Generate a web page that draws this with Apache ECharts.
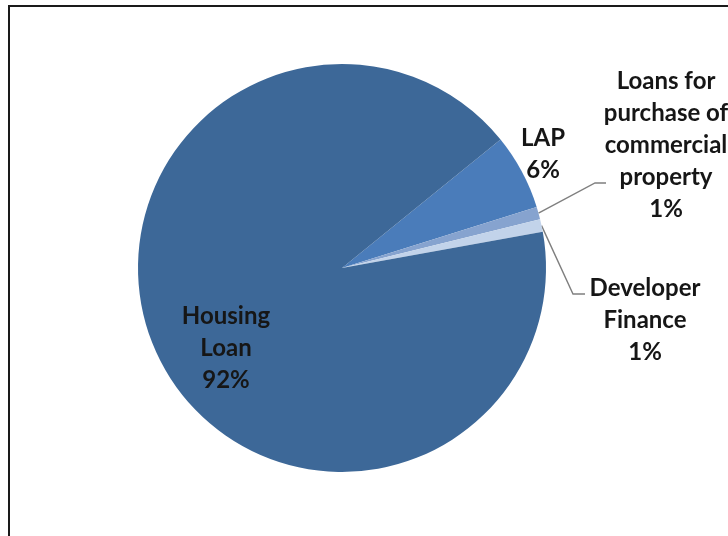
<!DOCTYPE html>
<html>
<head>
<meta charset="utf-8">
<script src="https://cdn.jsdelivr.net/npm/echarts@6/dist/echarts.min.js"></script>
<style>
  html, body { margin: 0; padding: 0; background: #ffffff; }
  #chart { width: 728px; height: 536px; }
</style>
</head>
<body>
<div id="chart"></div>
<script>
// Loan book composition
const categories = ['LAP', 'Loans for\npurchase of\ncommercial\nproperty', 'Developer\nFinance', 'Housing\nLoan'];
const shares = [6, 1, 1, 92];

// Slice fills, same order as the categories
const sliceColors = ['#4a7cba', '#86a3cf', '#c2d3ea', '#3d6898'];

// Where each label block is centred, and the bend/end of its leader line
const labelSpots = [
  { x: 543, y: 154 },
  { x: 666, y: 145, bend: [595, 183], end: [606, 183] },
  { x: 645, y: 320, bend: [573, 294], end: [585, 294] },
  { x: 226, y: 348 }
];

const pieCenter = [342, 268];
const pieRadius = 204;

const chart = echarts.init(document.getElementById('chart'), null, { renderer: 'canvas' });

const seriesData = categories.map((name, i) => {
  const hasLine = !!labelSpots[i].bend;
  return {
    name: name,
    value: shares[i],
    itemStyle: { color: sliceColors[i] },
    label: { position: i === 3 ? 'inside' : 'outside' },
    labelLine: { show: hasLine }
  };
});

chart.setOption({
  animation: false,
  backgroundColor: '#ffffff',
  graphic: [{
    type: 'rect',
    shape: { x: 9, y: 6, width: 800, height: 600 },
    style: { fill: 'none', stroke: '#1a1a1a', lineWidth: 2 },
    silent: true
  }],
  series: [{
    type: 'pie',
    center: pieCenter,
    radius: pieRadius,
    startAngle: 39,
    clockwise: true,
    avoidLabelOverlap: false,
    minShowLabelAngle: 0,
    data: seriesData,
    itemStyle: { borderWidth: 0 },
    label: {
      show: true,
      formatter: '{b}\n{c}%',
      fontFamily: 'Lato, "Open Sans", sans-serif',
      fontWeight: 'bold',
      fontSize: 24,
      lineHeight: 32,
      color: '#161616',
      align: 'center',
      overflow: 'none'
    },
    labelLine: {
      lineStyle: { color: '#7f7f7f', width: 1.4 },
      length: 20,
      length2: 10,
      smooth: false
    },
    labelLayout: function (params) {
      const spot = labelSpots[params.dataIndex];
      const out = {
        x: spot.x,
        y: spot.y,
        align: 'center',
        verticalAlign: 'middle',
        hideOverlap: false,
        moveOverlap: false
      };
      if (spot.bend) {
        const pts = params.labelLinePoints;
        const start = pts && pts[0] ? [pts[0][0], pts[0][1]] : pieCenter.slice();
        out.labelLinePoints = [start, spot.bend, spot.end];
      }
      return out;
    },
    emphasis: { disabled: true }
  }]
});
</script>
</body>
</html>
